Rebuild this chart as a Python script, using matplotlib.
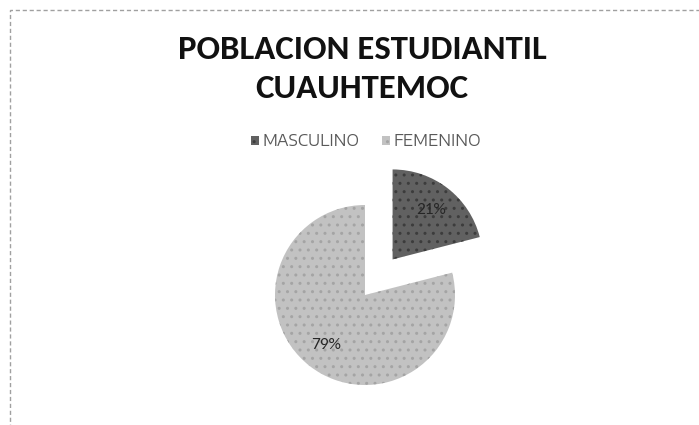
import matplotlib
matplotlib.use("Agg")
import matplotlib.pyplot as plt
from matplotlib.patches import Rectangle

categories = ["MASCULINO", "FEMENINO"]
values = [21, 79]
colors = ["#616161", "#c2c2c2"]
hatch_colors = ["#3c3c3c", "#a4a4a4"]
explode = [0.5, 0.0]
title = "POBLACION ESTUDIANTIL\nCUAUHTEMOC"

W, H = 699, 425
fig = plt.figure(figsize=(W / 100, H / 100), dpi=100)
fig.patch.set_facecolor("white")

# dashed chart-area border (top and left visible)
fig.patches.append(Rectangle((10 / W, -0.1), 1.2, (H - 10) / H + 0.1,
                             transform=fig.transFigure, fill=False,
                             edgecolor="#a0a0a0", linestyle=(0, (3, 2)),
                             linewidth=1.0))

R = 90.0  # pie radius in px
cx, cy = 365, H - 295
ax_w, ax_h = 330, 220
ax = fig.add_axes([(cx - ax_w / 2) / W, (cy - ax_h / 2) / H, ax_w / W, ax_h / H])
wedges, texts, autotexts = ax.pie(values, explode=explode, colors=colors,
                                  startangle=90, counterclock=False,
                                  autopct="%1.0f%%", pctdistance=0.7,
                                  wedgeprops=dict(linewidth=0))
for w, hc in zip(wedges, hatch_colors):
    w.set_hatch("..")
    w.set_edgecolor(hc)
    w.set_linewidth(0)
for t in autotexts:
    t.set_fontsize(12.5)
    t.set_color("#262626")
    t.set_fontfamily("Carlito")
ax.set_xlim(-ax_w / 2 / R, ax_w / 2 / R)
ax.set_ylim(-ax_h / 2 / R, ax_h / 2 / R)
ax.set_aspect("auto")
ax.axis("off")

fig.text(362 / W, 1 - 98 / H, title, ha="center", va="baseline",
         fontsize=25, fontweight="bold", family="Carlito",
         linespacing=1.43, color="#111111", multialignment="center")

leg = fig.legend(wedges, categories, loc="center", bbox_to_anchor=(366 / W, 1 - 141 / H),
                 ncol=2, frameon=False, handlelength=0.52, handleheight=0.52,
                 columnspacing=1.5, handletextpad=0.22,
                 prop={"family": "Encode Sans Expanded", "size": 11})
for t in leg.get_texts():
    t.set_color("#595959")

fig.savefig("out.png", dpi=100, facecolor="white")
